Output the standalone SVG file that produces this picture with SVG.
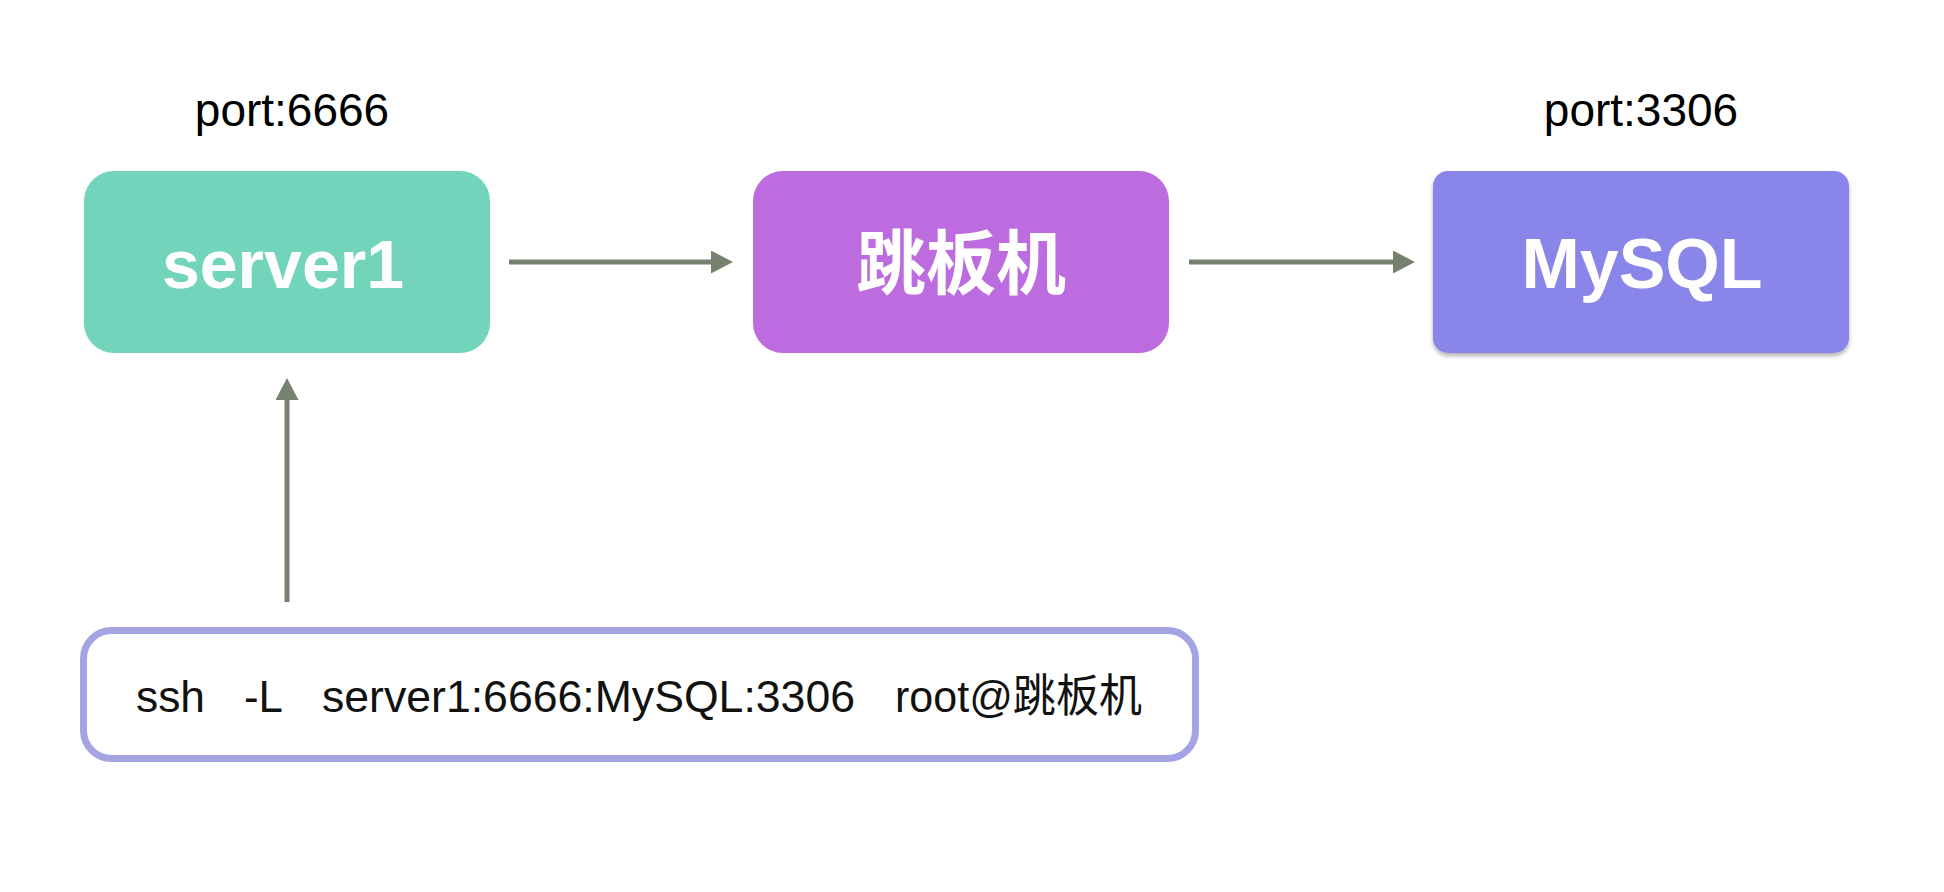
<svg xmlns="http://www.w3.org/2000/svg" width="1944" height="892" viewBox="0 0 1944 892">
  <style>
    .port { font-family: "Liberation Sans", Arial, sans-serif; font-size: 46px; fill: #000; text-anchor: middle; }
    .title { font-family: "Liberation Sans", Arial, "Noto Sans CJK SC", sans-serif; font-weight: bold; font-size: 68px; fill: #fff; text-anchor: middle; }
    .cjk { font-family: "Noto Sans CJK SC", sans-serif; font-weight: bold; font-size: 70px; fill: #fff; text-anchor: middle; }
    .cmd { font-family: "Liberation Sans", Arial, "Noto Sans CJK SC", sans-serif; font-size: 45px; fill: #111; }
    .conn { stroke: #77816f; stroke-width: 5; fill: none; }
  </style>
  <defs>
    <marker id="arrow" markerUnits="userSpaceOnUse" markerWidth="22" markerHeight="23" refX="0" refY="11.5" orient="auto">
      <path d="M0,0 L22,11.5 L0,23 z" fill="#77816f"/>
    </marker>
    <filter id="shadow" x="-5%" y="-5%" width="110%" height="115%">
      <feDropShadow dx="0" dy="3" stdDeviation="2" flood-color="#000" flood-opacity="0.3"/>
    </filter>
  </defs>
  <rect width="1944" height="892" fill="#fff"/>

  <g id="connectors">
    <line class="conn" x1="509" y1="262" x2="711" y2="262" marker-end="url(#arrow)"/>
    <line class="conn" x1="1189" y1="262" x2="1393" y2="262" marker-end="url(#arrow)"/>
    <line class="conn" x1="287" y1="602" x2="287" y2="400" marker-end="url(#arrow)"/>
  </g>

  <g id="server1">
    <text class="port" x="292" y="126">port:6666</text>
    <rect x="84" y="171" width="406" height="182" rx="30" ry="30" fill="#72d4bb"/>
    <text class="title" x="283" y="288">server1</text>
  </g>

  <g id="jump">
    <rect x="753" y="171" width="416" height="182" rx="30" ry="30" fill="#bd6ce0"/>
    <text class="cjk" x="961" y="289">跳板机</text>
  </g>

  <g id="mysql">
    <text class="port" x="1641" y="126">port:3306</text>
    <rect x="1433" y="171" width="416" height="182" rx="15" ry="15" fill="#8a85e8" filter="url(#shadow)"/>
    <text class="title" x="1642" y="288" style="font-size:70px">MySQL</text>
  </g>

  <g id="command">
    <rect x="83.5" y="630.5" width="1112" height="128" rx="28" ry="28" fill="#fff" stroke="#a4a4e4" stroke-width="7"/>
    <text class="cmd" x="136" y="712" textLength="69" lengthAdjust="spacingAndGlyphs">ssh</text>
    <text class="cmd" x="244" y="712" textLength="39" lengthAdjust="spacingAndGlyphs">-L</text>
    <text class="cmd" x="322" y="712" textLength="533" lengthAdjust="spacingAndGlyphs">server1:6666:MySQL:3306</text>
    <text class="cmd" x="895" y="712" textLength="247" lengthAdjust="spacingAndGlyphs">root@跳板机</text>
  </g>
</svg>
